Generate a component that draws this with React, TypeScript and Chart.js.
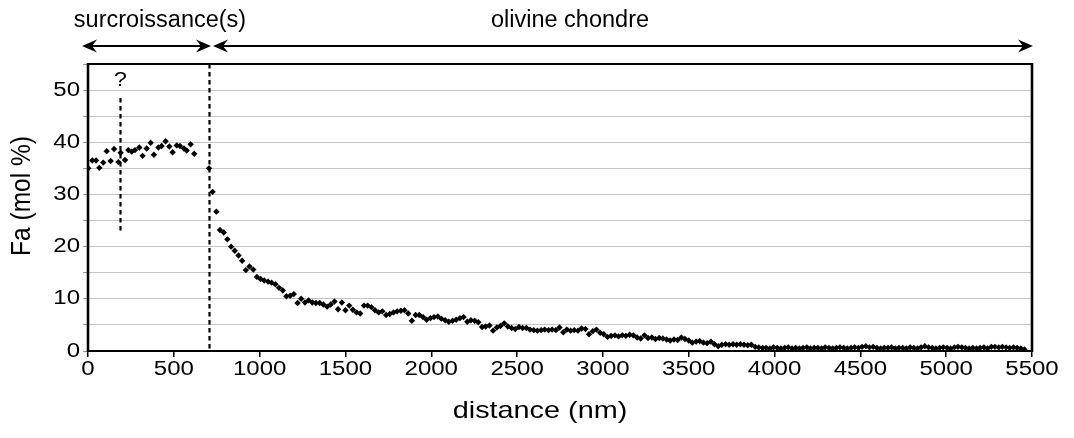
import React, { useEffect, useRef } from "react";
import { Chart, registerables } from "chart.js";

Chart.register(...registerables);

// ---- data (distance in nm, Fa in mol %) ----
const overgrowthPoints: [number, number][] = [
  [2, 35.0], [25, 36.5], [47, 36.5], [66, 35.1], [89, 36.1], [109, 38.3], [132, 36.4], [152, 38.7],
  [177, 36.2], [190, 38.0], [216, 36.6], [235, 38.5], [255, 38.2], [274, 38.5], [299, 39.0], [318, 37.4],
  [342, 38.8], [365, 39.9], [384, 37.6], [410, 39.0], [429, 39.3], [452, 40.2], [474, 39.2], [493, 38.1],
  [517, 39.4], [536, 39.3], [559, 38.8], [575, 38.4], [598, 39.6], [619, 37.8],
];

const chondrePoints: [number, number][] = [
  [705, 35.0], [726, 30.5], [748, 26.7], [769, 23.2], [791, 22.7], [812, 21.4], [834, 20.0], [855, 19.2],
  [877, 18.3], [898, 17.3], [920, 15.5], [941, 16.2], [963, 15.6], [984, 14.2], [1006, 13.8], [1027, 13.5],
  [1049, 13.3], [1070, 13.1], [1092, 12.8], [1113, 12.1], [1135, 11.6], [1156, 10.5], [1178, 10.6], [1199, 10.9],
  [1221, 9.2], [1242, 10.0], [1264, 9.3], [1285, 9.7], [1307, 9.3], [1328, 9.2], [1350, 9.2], [1371, 8.9],
  [1393, 8.5], [1414, 8.9], [1436, 9.5], [1457, 8.0], [1479, 9.3], [1500, 7.8], [1522, 8.7], [1543, 7.9],
  [1565, 7.4], [1586, 7.2], [1608, 8.7], [1629, 8.7], [1651, 8.4], [1672, 7.8], [1694, 7.4], [1715, 7.6],
  [1737, 6.9], [1758, 7.1], [1780, 7.4], [1801, 7.6], [1823, 7.7], [1844, 7.8], [1866, 7.2], [1887, 5.8],
  [1909, 6.9], [1930, 6.9], [1952, 6.5], [1973, 6.0], [1995, 6.3], [2016, 6.5], [2038, 6.6], [2059, 6.2],
  [2081, 5.9], [2102, 5.6], [2124, 5.8], [2145, 6.0], [2167, 6.3], [2188, 6.5], [2210, 5.6], [2231, 5.9],
  [2253, 5.8], [2274, 5.5], [2296, 4.6], [2317, 4.7], [2339, 4.9], [2360, 3.9], [2382, 4.5], [2403, 4.8],
  [2425, 5.3], [2446, 4.7], [2468, 4.4], [2489, 4.2], [2511, 4.6], [2532, 4.4], [2554, 4.4], [2575, 4.1],
  [2597, 4.0], [2618, 3.9], [2640, 4.0], [2661, 4.1], [2683, 4.0], [2704, 4.1], [2726, 4.0], [2747, 4.5],
  [2769, 3.6], [2790, 4.1], [2812, 3.9], [2833, 4.0], [2855, 3.9], [2876, 4.3], [2898, 4.2], [2919, 3.2],
  [2941, 3.8], [2962, 4.1], [2984, 3.5], [3005, 3.2], [3027, 2.7], [3048, 2.9], [3070, 3.0], [3091, 2.8],
  [3113, 3.0], [3134, 2.9], [3156, 3.1], [3177, 3.0], [3199, 2.6], [3220, 2.4], [3242, 3.0], [3263, 2.5],
  [3285, 2.6], [3306, 2.3], [3328, 2.5], [3349, 2.4], [3371, 2.2], [3392, 2.0], [3414, 2.2], [3435, 2.1],
  [3457, 2.6], [3478, 2.3], [3500, 2.0], [3521, 1.6], [3543, 1.8], [3564, 1.9], [3586, 1.6], [3607, 1.5],
  [3629, 1.8], [3650, 1.3], [3672, 0.9], [3693, 1.2], [3715, 1.3], [3736, 1.2], [3758, 1.3], [3779, 1.2],
  [3801, 1.3], [3822, 1.2], [3844, 1.1], [3865, 1.2], [3887, 0.8], [3908, 0.7], [3930, 0.6], [3951, 0.6],
  [3973, 0.5], [3994, 0.7], [4016, 0.6], [4037, 0.5], [4059, 0.6], [4080, 0.7], [4102, 0.5], [4123, 0.6],
  [4145, 0.5], [4166, 0.6], [4188, 0.7], [4209, 0.5], [4231, 0.6], [4252, 0.6], [4274, 0.5], [4295, 0.7],
  [4317, 0.6], [4338, 0.5], [4360, 0.6], [4381, 0.7], [4403, 0.6], [4424, 0.5], [4446, 0.6], [4467, 0.7],
  [4489, 0.6], [4510, 0.8], [4532, 0.9], [4553, 0.7], [4575, 0.8], [4596, 0.6], [4618, 0.5], [4639, 0.6],
  [4661, 0.6], [4682, 0.7], [4704, 0.5], [4725, 0.6], [4747, 0.6], [4768, 0.5], [4790, 0.7], [4811, 0.6],
  [4833, 0.5], [4854, 0.7], [4876, 0.9], [4897, 0.7], [4919, 0.6], [4940, 0.5], [4962, 0.6], [4983, 0.7],
  [5005, 0.6], [5026, 0.5], [5048, 0.7], [5069, 0.8], [5091, 0.7], [5112, 0.6], [5134, 0.5], [5155, 0.6],
  [5177, 0.5], [5198, 0.6], [5220, 0.7], [5241, 0.5], [5263, 0.8], [5284, 0.8], [5306, 0.7], [5327, 0.8],
  [5349, 0.7], [5370, 0.6], [5392, 0.7], [5413, 0.6], [5435, 0.5], [5456, 0.3],
];

const X_MIN = 0;
const X_MAX = 5500;
const X_STEP = 500;
const Y_MIN = 0;
const Y_MAX = 55;
const Y_GRID_STEP = 5;
const Y_LABEL_STEP = 10;

const BOUNDARY_NM = 700; // boundary between overgrowth and chondrule olivine
const QUESTION_NM = 185; // uncertain boundary marker
const QUESTION_LINE: [number, number] = [48.5, 22.5];

const REGION_LEFT_LABEL = "surcroissance(s)";
const REGION_RIGHT_LABEL = "olivine chondre";
const X_TITLE = "distance (nm)";
const Y_TITLE = "Fa (mol %)";

const FONT = "'Liberation Sans', Arial, Helvetica, sans-serif";

function stretchedText(
  ctx: CanvasRenderingContext2D,
  text: string,
  x: number,
  y: number,
  size: number,
  sx: number,
  align: CanvasTextAlign,
  rotate = 0
) {
  ctx.save();
  ctx.translate(x, y);
  ctx.scale(sx, 1);
  if (rotate) ctx.rotate(rotate);
  ctx.font = `${size}px ${FONT}`;
  ctx.textAlign = align;
  ctx.textBaseline = "middle";
  ctx.fillStyle = "#000";
  ctx.fillText(text, 0, 0);
  ctx.restore();
}

function drawHead(ctx: CanvasRenderingContext2D, x: number, y: number, dir: number) {
  ctx.beginPath();
  ctx.moveTo(x, y);
  ctx.lineTo(x - dir * 15, y - 6.5);
  ctx.lineTo(x - dir * 10, y);
  ctx.lineTo(x - dir * 15, y + 6.5);
  ctx.closePath();
  ctx.fill();
}

const annotationPlugin = {
  id: "annotations",
  beforeDatasetsDraw(chart: any) {
    const { ctx, chartArea, scales } = chart;
    const xs = scales.x;
    const ys = scales.y;
    ctx.save();
    ctx.strokeStyle = "#000";
    ctx.lineWidth = 2.2;
    ctx.setLineDash([4.5, 3.5]);
    const bx = Math.round(xs.getPixelForValue(BOUNDARY_NM)) + 1.5;
    ctx.beginPath();
    ctx.moveTo(bx, chartArea.top);
    ctx.lineTo(bx, chartArea.bottom);
    ctx.stroke();
    const qx = Math.round(xs.getPixelForValue(QUESTION_NM)) + 0.5;
    ctx.beginPath();
    ctx.moveTo(qx, ys.getPixelForValue(QUESTION_LINE[0]));
    ctx.lineTo(qx, ys.getPixelForValue(QUESTION_LINE[1]));
    ctx.stroke();
    ctx.restore();
  },
  afterDraw(chart: any) {
    const { ctx, chartArea, scales } = chart;
    const xs = scales.x;
    const ys = scales.y;
    ctx.save();
    // frame
    ctx.strokeStyle = "#000";
    ctx.setLineDash([]);
    ctx.lineWidth = 2;
    ctx.beginPath();
    ctx.moveTo(chartArea.left, chartArea.top);
    ctx.lineTo(chartArea.right, chartArea.top);
    ctx.moveTo(chartArea.left, chartArea.bottom);
    ctx.lineTo(chartArea.right, chartArea.bottom);
    ctx.stroke();
    ctx.lineWidth = 2.6;
    ctx.beginPath();
    ctx.moveTo(chartArea.left, chartArea.top - 1);
    ctx.lineTo(chartArea.left, chartArea.bottom + 1);
    ctx.moveTo(chartArea.right, chartArea.top - 1);
    ctx.lineTo(chartArea.right, chartArea.bottom + 1);
    ctx.stroke();

    // tick labels (positions from the chart's own scales)
    xs.ticks.forEach((t: any) => {
      stretchedText(ctx, String(t.value), xs.getPixelForValue(t.value), 369, 20, 1.2, "center");
    });
    ys.ticks.forEach((t: any) => {
      if (t.value % Y_LABEL_STEP !== 0) return;
      stretchedText(ctx, String(t.value), 80, ys.getPixelForValue(t.value), 20, 1.2, "right");
    });

    // axis titles
    stretchedText(ctx, X_TITLE, 540, 411, 24, 1.2, "center");
    stretchedText(ctx, Y_TITLE, 22, 196, 24.5, 1.15, "center", -Math.PI / 2);

    // question mark
    const qx = Math.round(xs.getPixelForValue(QUESTION_NM)) + 0.5;
    stretchedText(ctx, "?", qx, ys.getPixelForValue(51.8), 21, 1.1, "center");

    // region arrows
    const ay = 46;
    const x0 = xs.getPixelForValue(X_MIN) - 6;
    const xb = Math.round(xs.getPixelForValue(BOUNDARY_NM)) + 4;
    const x1 = xs.getPixelForValue(X_MAX) + 1;
    ctx.fillStyle = "#000";
    ctx.lineWidth = 2;
    ctx.beginPath();
    ctx.moveTo(x0 + 8, ay);
    ctx.lineTo(xb - 8, ay);
    ctx.moveTo(xb + 8, ay);
    ctx.lineTo(x1 - 8, ay);
    ctx.stroke();
    drawHead(ctx, x0, ay, -1);
    drawHead(ctx, xb - 1, ay, 1);
    drawHead(ctx, xb + 1, ay, -1);
    drawHead(ctx, x1, ay, 1);

    stretchedText(ctx, REGION_LEFT_LABEL, 160, 21, 23.5, 1, "center");
    stretchedText(ctx, REGION_RIGHT_LABEL, 570, 21, 23.5, 1, "center");
    ctx.restore();
  },
};

export default function App() {
  const canvasRef = useRef<HTMLCanvasElement | null>(null);

  useEffect(() => {
    document.body.style.margin = "0";
    const canvas = canvasRef.current;
    if (!canvas) return;
    const chart = new Chart(canvas, {
      type: "scatter",
      data: {
        datasets: [
          {
            label: "surcroissance",
            data: overgrowthPoints.map(([x, y]) => ({ x, y })),
            pointStyle: "rectRot",
            pointRadius: 3.2,
            backgroundColor: "#000",
            borderWidth: 0,
            showLine: false,
          },
          {
            label: "olivine chondre",
            data: chondrePoints.map(([x, y]) => ({ x, y })),
            pointStyle: "rectRot",
            pointRadius: 3.2,
            backgroundColor: "#000",
            borderWidth: 0,
            showLine: false,
          },
        ],
      },
      options: {
        animation: false,
        responsive: false,
        maintainAspectRatio: false,
        layout: { padding: { left: 0, top: 64, right: 42, bottom: 0 } },
        plugins: { legend: { display: false }, tooltip: { enabled: false } },
        scales: {
          x: {
            type: "linear",
            min: X_MIN,
            max: X_MAX,
            afterFit: (s: any) => {
              s.height = 87;
            },
            border: { display: false },
            grid: { drawOnChartArea: false, drawTicks: true, tickLength: 6, color: "#000", lineWidth: 1.5 },
            ticks: { stepSize: X_STEP, display: false, autoSkip: false },
            title: { display: false, text: X_TITLE },
          },
          y: {
            type: "linear",
            min: Y_MIN,
            max: Y_MAX,
            afterFit: (s: any) => {
              s.width = 88;
            },
            border: { display: false },
            grid: { color: "#c4c4c4", lineWidth: 1, tickLength: 5, tickColor: "#999" },
            ticks: { stepSize: Y_GRID_STEP, display: false },
            title: { display: false, text: Y_TITLE },
          },
        },
      },
      plugins: [annotationPlugin],
    } as any);
    return () => chart.destroy();
  }, []);

  return (
    <div style={{ position: "relative", width: 1074, height: 438 }}>
      <canvas ref={canvasRef} width={1074} height={438} style={{ display: "block" }} />
    </div>
  );
}
